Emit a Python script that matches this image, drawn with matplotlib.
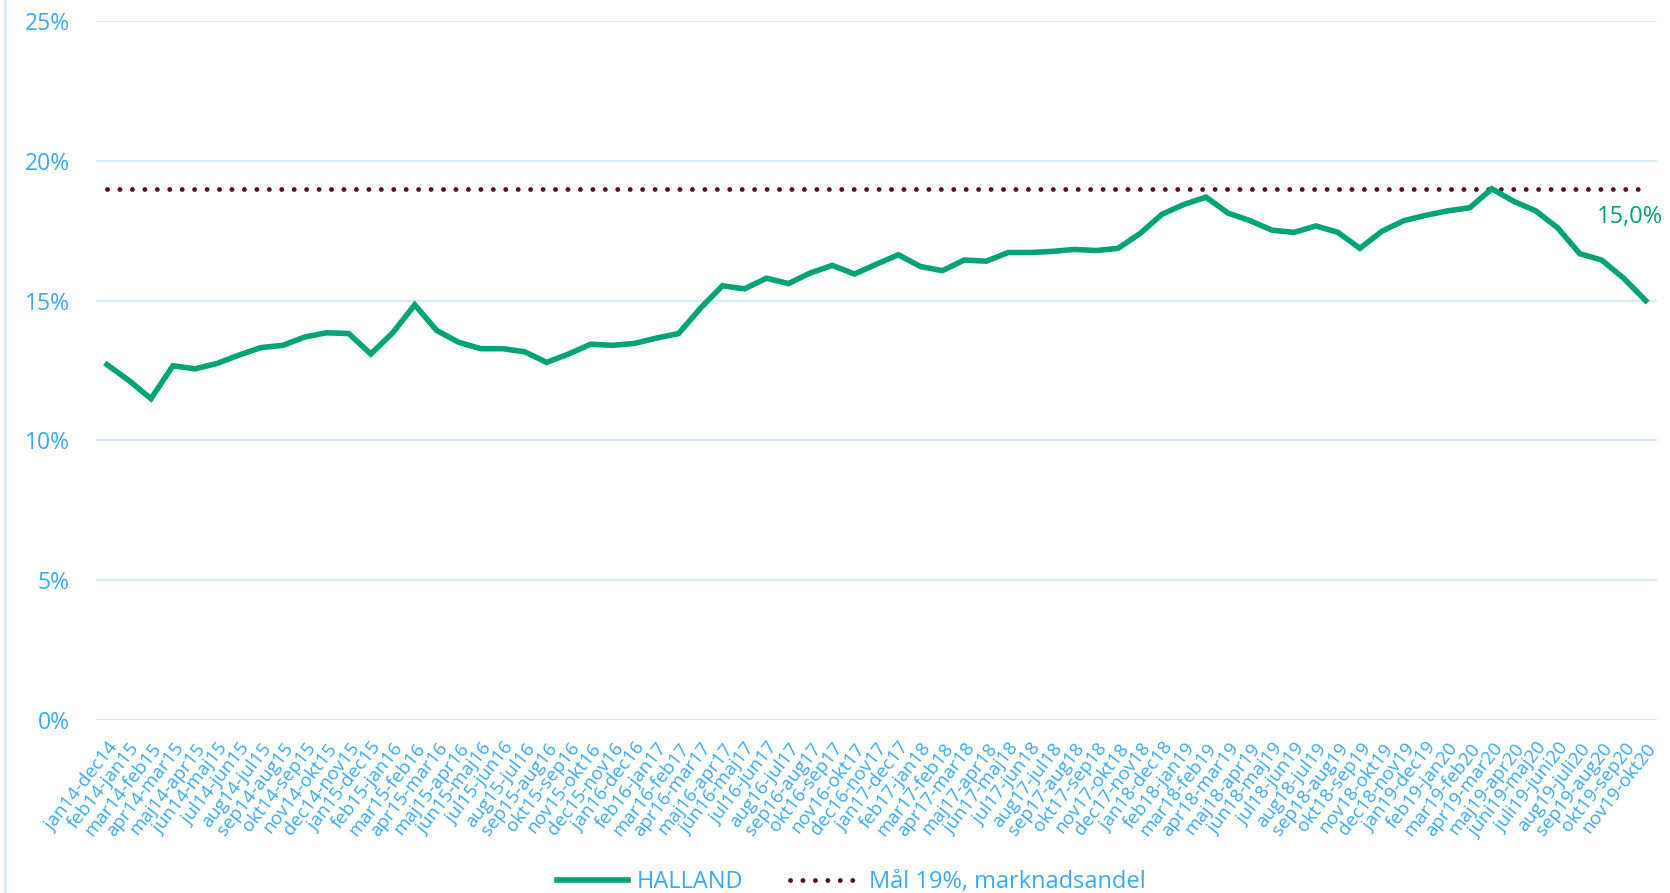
import matplotlib
matplotlib.use("Agg")
import matplotlib.pyplot as plt
from matplotlib.lines import Line2D

plt.rcParams['font.family'] = ['Open Sans', 'DejaVu Sans']

categories = [
    "jan14-dec14", "feb14-jan15", "mar14-feb15", "apr14-mar15", "maj14-apr15", "jun14-maj15",
    "jul14-jun15", "aug14-jul15", "sep14-aug15", "okt14-sep15", "nov14-okt15", "dec14-nov15",
    "jan15-dec15", "feb15-jan16", "mar15-feb16", "apr15-mar16", "maj15-apr16", "jun15-maj16",
    "jul15-jun16", "aug15-jul16", "sep15-aug16", "okt15-sep16", "nov15-okt16", "dec15-nov16",
    "jan16-dec16", "feb16-jan17", "mar16-feb17", "apr16-mar17", "maj16-apr17", "jun16-maj17",
    "jul16-jun17", "aug16-jul17", "sep16-aug17", "okt16-sep17", "nov16-okt17", "dec16-nov17",
    "jan17-dec17", "feb17-jan18", "mar17-feb18", "apr17-mar18", "maj17-apr18", "jun17-maj18",
    "jul17-jun18", "aug17-jul18", "sep17-aug18", "okt17-sep18", "nov17-okt18", "dec17-nov18",
    "jan18-dec18", "feb18-jan19", "mar18-feb19", "apr18-mar19", "maj18-apr19", "jun18-maj19",
    "jul18-jun19", "aug18-jul19", "sep18-aug19", "okt18-sep19", "nov18-okt19", "dec18-nov19",
    "jan19-dec19", "feb19-jan20", "mar19-feb20", "apr19-mar20", "maj19-apr20", "juni19-maj20",
    "juli19-juni20", "aug19-juli20", "sep19-aug20", "okt19-sep20", "nov19-okt20",
]

halland = [
    12.71, 12.14, 11.49, 12.67, 12.56, 12.75, 13.05, 13.32, 13.40, 13.70, 13.85, 13.82,
    13.09, 13.85, 14.85, 13.93, 13.51, 13.28, 13.28, 13.17, 12.79, 13.09, 13.44, 13.40,
    13.47, 13.66, 13.82, 14.73, 15.53, 15.42, 15.80, 15.61, 15.99, 16.26, 15.95, 16.30,
    16.64, 16.22, 16.07, 16.45, 16.41, 16.72, 16.72, 16.76, 16.83, 16.79, 16.87, 17.40,
    18.09, 18.44, 18.70, 18.13, 17.86, 17.52, 17.44, 17.67, 17.44, 16.87, 17.48, 17.86,
    18.05, 18.21, 18.32, 19.00, 18.55, 18.21, 17.60, 16.68, 16.45, 15.80, 15.00,
]

target = [19.0] * len(categories)
yticks = [0, 5, 10, 15, 20, 25]
last_label = "15,0%"

BLUE = '#3AA9F5'
GRID = '#D5EAFB'
GREEN = '#00A376'
MAROON = '#5A0F26'

fig = plt.figure(figsize=(16.7, 8.93), dpi=100)
ax = fig.add_axes([0.0575, 0.1937, 0.9345, 0.7828])

x = list(range(len(categories)))
ax.plot(x, target, color=MAROON, linewidth=3.5, linestyle=(0, (0.01, 2.55)),
        dash_capstyle='round', label="Mål 19%, marknadsandel", zorder=3)
ax.plot(x, halland, color=GREEN, linewidth=4, solid_joinstyle='miter',
        label="HALLAND", zorder=4)

ax.text(69.3, 18.0, last_label, color=GREEN, fontsize=17, ha='center', va='center')

ax.set_xlim(-0.5, len(categories) - 0.5)
ax.set_ylim(0, 25)
ax.set_yticks(yticks)
ax.set_yticklabels([f"{v}%" for v in yticks])
ax.set_xticks(x)
ax.set_xticklabels(categories, rotation=52, ha='right', rotation_mode='anchor')
ax.tick_params(axis='y', length=0, pad=19, labelsize=16.5, labelcolor=BLUE)
ax.tick_params(axis='x', length=0, pad=14, labelsize=13.5, labelcolor=BLUE)
ax.grid(axis='y', color=GRID, linewidth=1.5)
ax.set_axisbelow(True)
for s in ax.spines.values():
    s.set_visible(False)

fig.add_artist(Line2D([5 / 1670, 5 / 1670], [0, 1], color=GRID, linewidth=2,
                      transform=fig.transFigure))

handles, labels = ax.get_legend_handles_labels()
leg = fig.legend(handles[::-1], labels[::-1], loc='center', bbox_to_anchor=(0.51, 0.012),
                 ncol=2, frameon=False, fontsize=17, handlelength=3.0,
                 columnspacing=2.0, handletextpad=0.35)
for t in leg.get_texts():
    t.set_color(BLUE)

fig.savefig("out.png", dpi=100)
